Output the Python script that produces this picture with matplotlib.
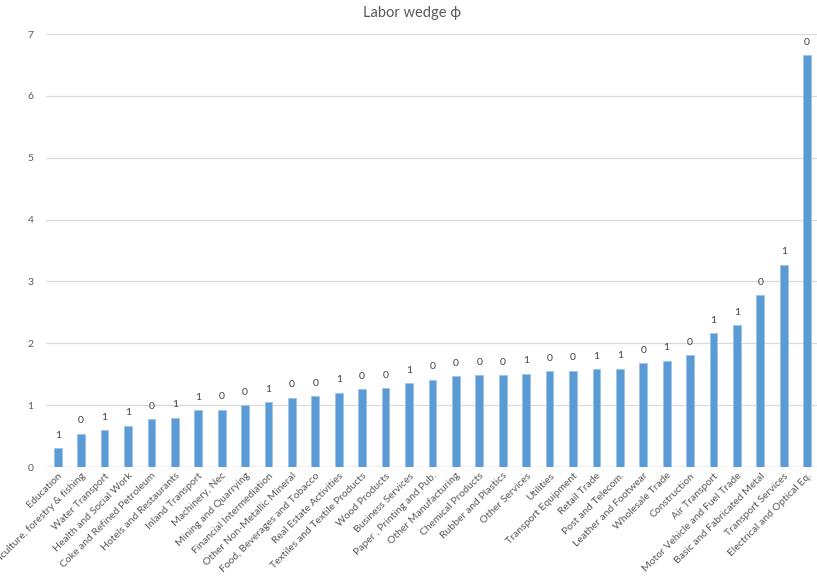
import matplotlib
matplotlib.use('Agg')
import matplotlib.pyplot as plt

plt.rcParams['font.family'] = ['Lato', 'DejaVu Sans']

sectors = ['Education', 'Agriculture, forestry & fishing', 'Water Transport',
           'Health and Social Work', 'Coke and Refined Petroleum',
           'Hotels and Restaurants', 'Inland Transport', 'Machinery, Nec',
           'Mining and Quarrying', 'Financial Intermediation',
           'Other Non-Metallic Mineral', 'Food, Beverages and Tobacco',
           'Real Estate Activities', 'Textiles and Textile Products',
           'Wood Products', 'Business Services', 'Paper , Printing and Pub.',
           'Other Manufacturing', 'Chemical Products', 'Rubber and Plastics',
           'Other Services', 'Utilities', 'Transport Equipment', 'Retail Trade',
           'Post and Telecom.', 'Leather and Footwear', 'Wholesale Trade',
           'Construction', 'Air Transport', 'Motor Vehicle and Fuel Trade',
           'Basic and Fabricated Metal', 'Transport Services',
           'Electrical and Optical Eq.']
wedge = [0.30, 0.54, 0.60, 0.67, 0.77, 0.80, 0.92, 0.93, 1.00, 1.05, 1.12,
         1.15, 1.20, 1.26, 1.27, 1.36, 1.41, 1.47, 1.48, 1.49, 1.51, 1.55,
         1.56, 1.58, 1.59, 1.68, 1.72, 1.81, 2.16, 2.29, 2.78, 3.27, 6.66]
point_labels = ['1', '0', '1', '1', '0', '1', '1', '0', '0', '1', '0', '0',
                '1', '0', '0', '1', '0', '0', '0', '0', '1', '0', '0', '1',
                '1', '0', '1', '0', '1', '1', '0', '1', '0']

fig = plt.figure(figsize=(8.17, 5.78), dpi=100)
ax = fig.add_axes([0.0563, 0.192, 0.946, 0.749])

x = range(len(sectors))
bars = ax.bar(x, wedge, width=0.33, color='#5b9bd5', edgecolor='#9dc3e6',
              linewidth=0.6, zorder=3)
for b, lab in zip(bars, point_labels):
    ax.annotate(lab, (b.get_x() + b.get_width() / 2, b.get_height()),
                xytext=(0, 6), textcoords='offset points', ha='center',
                va='bottom', fontsize=7.5, color='#404040')

ax.set_xlim(-0.5, len(sectors) - 0.5)
ax.set_ylim(0, 7)
ax.set_yticks(range(8))
ax.yaxis.grid(True, color='#d9d9d9', linewidth=0.9, zorder=0)
for s in ax.spines.values():
    s.set_visible(False)
ax.axhline(0, color='#d9d9d9', linewidth=0.9, zorder=1)
ax.tick_params(length=0, colors='#595959', labelsize=7.5)
ax.tick_params(axis='y', pad=9)
ax.set_xticks(list(x))
ax.set_xticklabels(sectors, rotation=45, ha='right', va='top',
                   rotation_mode='anchor')
ax.tick_params(axis='x', pad=3)

fig.suptitle('Labor wedge ϕ', x=0.504, y=0.99, fontsize=10.5, color='#595959')

plt.savefig('out.png', dpi=100)
